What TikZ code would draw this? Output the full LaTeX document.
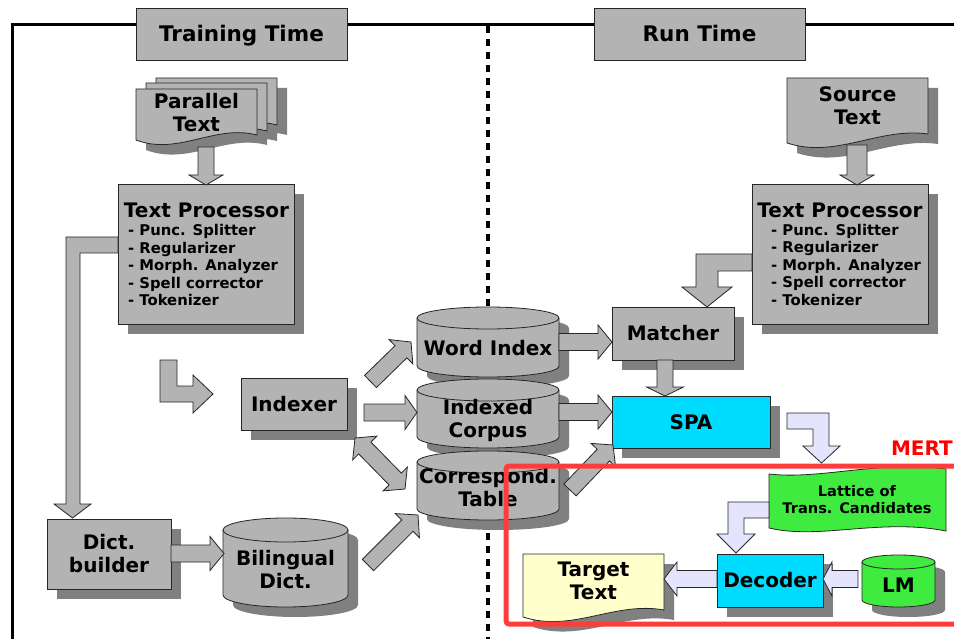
\documentclass[tikz,border=0pt]{standalone}
\usepackage{fontspec}
\setmainfont{DejaVu Sans}
\usetikzlibrary{calc,shadows}

\definecolor{boxgray}{HTML}{B3B3B3}
\definecolor{shadowgray}{HTML}{808080}
\definecolor{spacyan}{HTML}{00DCFF}
\definecolor{latgreen}{HTML}{40EB40}
\definecolor{lavblue}{HTML}{E4E4FC}
\definecolor{paleyellow}{HTML}{FFFFCC}
\definecolor{mertred}{HTML}{FF3C3C}
\definecolor{mertlabel}{HTML}{FF0000}

\newcommand\fonthdr{\fontsize{21.5}{25}\selectfont\bfseries}
\newcommand\fontlbl{\fontsize{20}{23}\selectfont\bfseries}
\newcommand\fontitm{\fontsize{14.8}{17.4}\selectfont\bfseries}
\newcommand\fontlat{\fontsize{14.6}{17}\selectfont\bfseries}

\tikzset{
  outline/.style={draw=black!85, line width=0.8pt},
  dshadow/.style={drop shadow={shadow xshift=10pt, shadow yshift=-10pt, fill=shadowgray, opacity=1}},
  box/.style={outline, fill=boxgray, dshadow, inner sep=0pt, align=center,
    font=\fontlbl, text height=14.5pt, text depth=0pt},
  box2/.style={outline, fill=boxgray, dshadow, inner sep=0pt, align=center, font=\fontlbl},
  header/.style={outline, fill=boxgray, inner sep=0pt, font=\fonthdr,
    text height=15.5pt, text depth=0pt, minimum width=211pt, minimum height=52pt},
  lbltxt/.style={inner sep=0pt, align=center, font=\fontlbl, text height=14.5pt, text depth=0pt},
  lbl2/.style={inner sep=0pt, align=center, font=\fontlbl},
  itemtxt/.style={inner sep=0pt, anchor=base west, font=\fontitm},
  bshaft/.store in=\bshaft, bhead/.store in=\bhead, blen/.store in=\blen,
  bshaft=8.5pt, bhead=17pt, blen=14pt,
  % single-headed block arrow from the start point (tail) to the target (tip)
  blockarrow/.style={outline, line join=miter, to path={
     ($(\tikztostart)!\bshaft!90:(\tikztotarget)$)
     -- ($($(\tikztotarget)!\blen!(\tikztostart)$)!\bshaft!90:(\tikztotarget)$)
     -- ($($(\tikztotarget)!\blen!(\tikztostart)$)!\bhead!90:(\tikztotarget)$)
     -- (\tikztotarget)
     -- ($($(\tikztotarget)!\blen!(\tikztostart)$)!\bhead!-90:(\tikztotarget)$)
     -- ($($(\tikztotarget)!\blen!(\tikztostart)$)!\bshaft!-90:(\tikztotarget)$)
     -- ($(\tikztostart)!\bshaft!-90:(\tikztotarget)$) -- cycle}},
  % double-headed block arrow
  dblockarrow/.style={outline, line join=miter, to path={
     (\tikztostart)
     -- ($($(\tikztostart)!\blen!(\tikztotarget)$)!\bhead!90:(\tikztotarget)$)
     -- ($($(\tikztostart)!\blen!(\tikztotarget)$)!\bshaft!90:(\tikztotarget)$)
     -- ($($(\tikztotarget)!\blen!(\tikztostart)$)!\bshaft!90:(\tikztotarget)$)
     -- ($($(\tikztotarget)!\blen!(\tikztostart)$)!\bhead!90:(\tikztotarget)$)
     -- (\tikztotarget)
     -- ($($(\tikztotarget)!\blen!(\tikztostart)$)!\bhead!-90:(\tikztotarget)$)
     -- ($($(\tikztotarget)!\blen!(\tikztostart)$)!\bshaft!-90:(\tikztotarget)$)
     -- ($($(\tikztostart)!\blen!(\tikztotarget)$)!\bshaft!-90:(\tikztotarget)$)
     -- ($($(\tikztostart)!\blen!(\tikztotarget)$)!\bhead!-90:(\tikztotarget)$)
     -- cycle}},
}

% document sheet with a wavy lower edge: style, x0, ytop, x1, ybottom(left), rise(right)
\newcommand\docshape[6]{%
  \pgfmathsetmacro\docw{#4-#2}%
  \path[#1] (#2,#3) -- (#4,#3) -- (#4,#5-#6)
    .. controls ({#2+0.65*\docw},#5-16) and ({#2+0.35*\docw},#5+16) .. (#2,#5) -- cycle;}

% upright cylinder: x0, ytop, x1, ybottom, ellipse half-height, fill
\newcommand\cyl[6]{%
  \pgfmathsetmacro\cylrx{(#3-#1)/2}%
  \path[outline, fill=#6, dshadow] (#1,#2+#5) -- (#1,#4-#5)
    arc[start angle=180, end angle=0, x radius=\cylrx, y radius=#5]
    -- (#3,#2+#5)
    arc[start angle=0, end angle=-180, x radius=\cylrx, y radius=#5] -- cycle;
  \draw[outline] (#1,#2+#5) arc[start angle=180, end angle=0, x radius=\cylrx, y radius=#5];}

\begin{document}
\begin{tikzpicture}[x=1pt, y=-1pt]
\useasboundingbox (0,0) rectangle (954,639);
\clip (0,0) rectangle (954,639);

% frame and the training / run time divider
\draw[line width=3pt] (12.5,639) -- (12.5,24.5) -- (954,24.5);
\draw[line width=3.4pt, dash pattern=on 7pt off 6pt] (488,26) -- (488,639);

\node[header] (train) at (241.5,34) {Training Time};
\node[header] (run) at (699.5,34) {Run Time};

% ---------- training side ----------
% stack of parallel text sheets
\docshape{fill=shadowgray}{166}{88}{287}{140}{5}
\docshape{fill=shadowgray}{156}{93}{277}{146}{5}
\docshape{fill=shadowgray}{146}{99}{267}{150}{5}
\docshape{outline, fill=boxgray}{156}{78}{277}{130}{5}
\docshape{outline, fill=boxgray}{146}{83}{267}{136}{5}
\docshape{outline, fill=boxgray}{136}{89}{257}{140}{5}
\node[lbl2] (partext) at (196.5,113) {Parallel\\Text};

\node[box, minimum width=176pt, minimum height=140pt] (tpL) at (206,254) {};
\node[lbltxt, anchor=base] (tpL-title) at (206.5,218) {Text Processor};
\foreach \t [count=\i] in {Punc. Splitter, Regularizer, Morph. Analyzer, Spell corrector, Tokenizer}
  \node[itemtxt] (tpL-\i) at (128,{236+17.4*(\i-1)}) {- \t};

\node[box2, minimum width=124pt, minimum height=70pt] (dict) at (109,554) {Dict.\\builder};
\cyl{223}{518}{348}{607}{12}{boxgray}
\node[lbl2] (bil) at (285.5,570) {Bilingual\\Dict.};

\node[box, minimum width=106pt, minimum height=52pt] (idx) at (294,404) {Indexer};

\cyl{417}{307}{559}{377}{11}{boxgray}
\node[lbltxt] (wi) at (488,348) {Word Index};
\cyl{417}{379}{559}{448}{11}{boxgray}
\node[lbl2] (ic) at (488,420.5) {Indexed\\Corpus};
\cyl{417}{451}{559}{520}{11}{boxgray}
\node[lbl2] (ct) at (488,488) {Correspond.\\Table};

% ---------- run side ----------
\docshape{outline, fill=boxgray, dshadow}{787}{78}{928}{143}{9}
\node[lbl2] (srctext) at (857.5,106) {Source\\Text};

\node[box, minimum width=176pt, minimum height=140pt] (tpR) at (840,254) {};
\node[lbltxt, anchor=base] (tpR-title) at (840,218) {Text Processor};
\foreach \t [count=\i] in {Punc. Splitter, Regularizer, Morph. Analyzer, Spell corrector, Tokenizer}
  \node[itemtxt] (tpR-\i) at (771,{235.5+17.4*(\i-1)}) {- \t};

\node[box, minimum width=122pt, minimum height=53pt] (match) at (673,333.5) {Matcher};
\node[box, fill=spacyan, minimum width=158pt, minimum height=52pt] (spa) at (691,422) {SPA};

\path[outline, fill=latgreen] (769,474) .. controls (820,480) and (880,460) .. (946,469)
  -- (946,531) .. controls (880,518) and (820,540) .. (769,528) -- cycle;
\node[lbl2, font=\fontlat] (lat) at (857,500) {Lattice of\\Trans. Candidates};

\node[box, fill=spacyan, minimum width=106pt, minimum height=53pt] (dec) at (770,580.5) {Decoder};
\cyl{862}{555}{935}{607}{7}{latgreen}
\node[lbltxt] (lm) at (898.5,585) {LM};
\docshape{outline, fill=paleyellow, dshadow}{523}{554}{664}{617}{7}
\node[lbl2] (tgt) at (593.5,581) {Target\\Text};

% ---------- block arrows ----------
\coordinate (par-out) at (206,147);   \coordinate (tpL-in) at (206,185);
\coordinate (src-out) at (857,145);   \coordinate (tpR-in) at (857,185);
\coordinate (dict-out) at (171,553.5); \coordinate (bil-in) at (224,553.5);
\coordinate (bil-out) at (368,565);   \coordinate (ct-in) at (418,515);
\coordinate (idx-up) at (370.5,381.5); \coordinate (wi-in) at (411,342);
\coordinate (idx-out) at (364,412.5); \coordinate (ic-in) at (417,412.5);
\coordinate (idx-dn) at (355,438);    \coordinate (ct-up) at (405,489);
\coordinate (wi-out) at (559,342);    \coordinate (match-in) at (612,342);
\coordinate (ic-out) at (559,412);    \coordinate (spa-in) at (612,412);
\coordinate (ct-out) at (570,490);    \coordinate (spa-low) at (613,445);
\coordinate (match-out) at (665,360); \coordinate (spa-top) at (665,396);
\coordinate (lm-out) at (858,579);    \coordinate (dec-in) at (823,579);
\coordinate (dec-out) at (717,579);   \coordinate (tgt-in) at (664,579);

\draw[blockarrow, fill=boxgray, bshaft=8pt, blen=10pt] (par-out) to (tpL-in);
\draw[blockarrow, fill=boxgray, bshaft=10pt, blen=10pt] (src-out) to (tpR-in);
\draw[blockarrow, fill=boxgray] (dict-out) to (bil-in);
\draw[blockarrow, fill=boxgray, bshaft=8pt, blen=15pt] (bil-out) to (ct-in);
\draw[blockarrow, fill=boxgray] (idx-up) to (wi-in);
\draw[blockarrow, fill=boxgray, blen=12pt] (idx-out) to (ic-in);
\draw[dblockarrow, fill=boxgray] (idx-dn) to (ct-up);
\draw[blockarrow, fill=boxgray] (wi-out) to (match-in);
\draw[blockarrow, fill=boxgray] (ic-out) to (spa-in);
\draw[blockarrow, fill=boxgray] (ct-out) to (spa-low);
\draw[blockarrow, fill=boxgray, bshaft=8pt, bhead=18.5pt, blen=9pt] (match-out) to (spa-top);
\draw[blockarrow, fill=lavblue, blen=9pt] (lm-out) to (dec-in);
\draw[blockarrow, fill=lavblue, blen=13pt] (dec-out) to (tgt-in);

% bent arrows
\path[outline, fill=boxgray, line join=miter] (118,237) -- (66,237) -- (66,504) -- (54,504)
  -- (72.5,518) -- (91,504) -- (80,504) -- (80,253) -- (118,253) -- cycle;
\path[outline, fill=boxgray, line join=miter] (160,360) -- (177,360) -- (177,386) -- (193,386)
  -- (193,375) -- (213,394) -- (193,413) -- (193,402) -- (160,402) -- cycle;
\path[outline, fill=boxgray, line join=miter] (752,254) -- (696,254) -- (696,287) -- (682,287)
  -- (707,307) -- (732,287) -- (718,287) -- (718,271) -- (752,271) -- cycle;
\path[outline, fill=lavblue, line join=miter] (787,413) -- (829,413) -- (829,446) -- (840,446)
  -- (821.5,463) -- (803,446) -- (813,446) -- (813,429) -- (787,429) -- cycle;
\path[outline, fill=lavblue, line join=miter] (769,502) -- (728,502) -- (728,534) -- (717,534)
  -- (736,553) -- (755,534) -- (744,534) -- (744,518) -- (769,518) -- cycle;

% MERT tuning loop
\draw[mertred, line width=5pt, rounded corners=3pt] (506,466) rectangle (1000,624);
\node[inner sep=0pt, anchor=base east, font=\fontlbl, text=mertlabel] (mert) at (953,455) {MERT};

\end{tikzpicture}
\end{document}
